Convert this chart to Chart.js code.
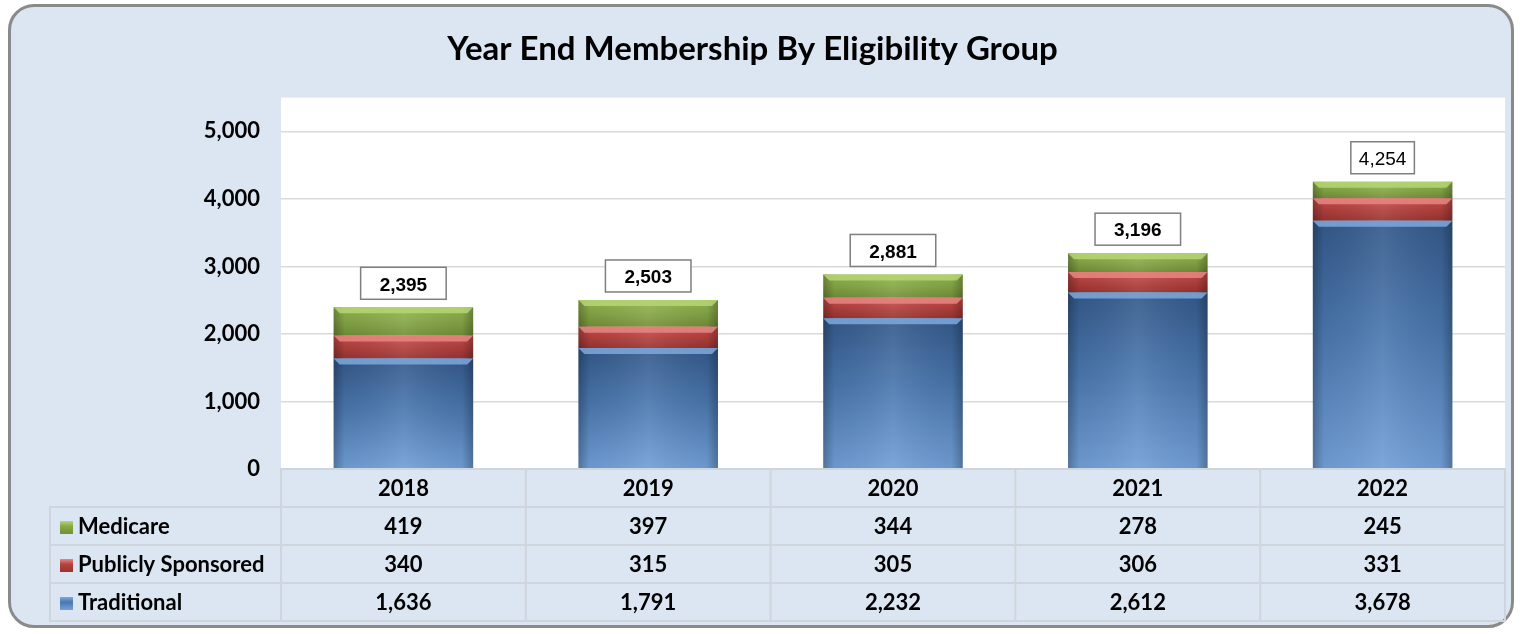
<!DOCTYPE html>
<html>
<head>
<meta charset="utf-8">
<script src="https://cdn.jsdelivr.net/npm/chart.js@4.4.0/dist/chart.umd.min.js"></script>
<style>
  html, body { margin: 0; padding: 0; background: #ffffff; }
  #wrap { position: relative; width: 1522px; height: 634px; }
  #frame {
    position: absolute; left: 8px; top: 4px; width: 1500px; height: 618px;
    border: 3px solid #8a8a8a; border-radius: 26px; background: #dce6f2;
  }
  #chart { position: absolute; left: 0; top: 0; }
</style>
</head>
<body>
<div id="wrap">
  <div id="frame"></div>
  <canvas id="chart" width="1522" height="634"></canvas>
</div>
<script>
const years = ['2018', '2019', '2020', '2021', '2022'];
const medicare = [419, 397, 344, 278, 245];
const publiclySponsored = [340, 315, 305, 306, 331];
const traditional = [1636, 1791, 2232, 2612, 3678];
const yTicks = [0, 1000, 2000, 3000, 4000, 5000];

const seriesNames = ['Traditional', 'Publicly Sponsored', 'Medicare'];
const tableOrder = ['Medicare', 'Publicly Sponsored', 'Traditional'];
const datasetsByName = { 'Traditional': traditional, 'Publicly Sponsored': publiclySponsored, 'Medicare': medicare };

// top, middle, bottom, bevel highlight
const shades = {
    'Traditional': ['#34598a', '#4a77ae', '#72a0d8', '#7ea9de'],
    'Publicly Sponsored': ['#c4504d', '#b6423f', '#983431', '#e88683'],
    'Medicare': ['#93b552', '#88a948', '#728f38', '#b5d672']
};

const BAR_PCT = 0.57;
const fmt = v => v.toLocaleString('en-US');

function barFill(name, di) {
    return (ctx) => {
        const chart = ctx.chart;
        const y = chart.scales.y;
        const i = ctx.dataIndex;
        const c = shades[name];
        if (!y || i === undefined) return c[1];
        let start = 0;
        for (let k = 0; k < di; k++) start += datasetsByName[seriesNames[k]][i];
        const end = start + datasetsByName[name][i];
        const p0 = y.getPixelForValue(end), p1 = y.getPixelForValue(start);
        if (!isFinite(p0) || !isFinite(p1) || p0 === p1) return c[1];
        const g = chart.ctx.createLinearGradient(0, p0, 0, p1);
        g.addColorStop(0, c[0]);
        g.addColorStop(0.45, c[1]);
        g.addColorStop(1, c[2]);
        return g;
    };
}

const plotBg = {
    id: 'plotBg',
    beforeDraw(chart) {
        const a = chart.chartArea;
        chart.ctx.save();
        chart.ctx.fillStyle = '#ffffff';
        chart.ctx.fillRect(a.left, a.top, a.right - a.left, a.bottom - a.top);
        chart.ctx.restore();
    }
};

// bevel + totals + data table
const tablePlugin = {
    id: 'tablePlugin',
    afterDatasetsDraw(chart) {
        const ctx = chart.ctx;
        const x = chart.scales.x;
        const y = chart.scales.y;
        const area = chart.chartArea;

        chart.data.datasets.forEach((ds, di) => {
            const c = shades[seriesNames[di]];
            chart.getDatasetMeta(di).data.forEach(bar => {
                const h = Math.abs(bar.base - bar.y);
                const l = bar.x - bar.width / 2, r = bar.x + bar.width / 2;
                ctx.save();
                const side = ctx.createLinearGradient(l, 0, r, 0);
                side.addColorStop(0, 'rgba(0,0,0,0.28)');
                side.addColorStop(0.08, 'rgba(0,0,0,0.05)');
                side.addColorStop(0.5, 'rgba(255,255,255,0.08)');
                side.addColorStop(0.92, 'rgba(0,0,0,0.05)');
                side.addColorStop(1, 'rgba(0,0,0,0.28)');
                ctx.fillStyle = side;
                ctx.fillRect(l, bar.y, bar.width, h);
                const b = Math.min(6, h / 2);
                ctx.fillStyle = c[3];
                ctx.globalAlpha = 0.85;
                ctx.beginPath();
                ctx.moveTo(l, bar.y);
                ctx.lineTo(r, bar.y);
                ctx.lineTo(r - b, bar.y + b);
                ctx.lineTo(l + b, bar.y + b);
                ctx.closePath();
                ctx.fill();
                ctx.restore();
            });
        });

        years.forEach((yr, i) => {
            const total = medicare[i] + publiclySponsored[i] + traditional[i];
            const cx = x.getPixelForValue(i);
            const top = y.getPixelForValue(total);
            const last = i === years.length - 1;
            ctx.save();
            ctx.font = (last ? '' : 'bold ') + '19px "Liberation Sans", Arial, sans-serif';
            const tw = ctx.measureText(fmt(total)).width;
            const bw = tw + (last ? 16 : 38);
            const bh = 32;
            const by = top - 8 - bh;
            ctx.fillStyle = '#ffffff';
            ctx.fillRect(cx - bw / 2, by, bw, bh);
            ctx.strokeStyle = '#7f7f7f';
            ctx.lineWidth = 1.5;
            ctx.strokeRect(cx - bw / 2, by, bw, bh);
            ctx.fillStyle = '#000000';
            ctx.textAlign = 'center';
            ctx.textBaseline = 'middle';
            ctx.fillText(fmt(total), cx, by + bh / 2 + 2);
            ctx.restore();
        });

        const rowH = 38;
        const top0 = area.bottom;
        const colW = (area.right - area.left) / years.length;
        const labelLeft = 50;
        ctx.save();
        ctx.strokeStyle = '#cfd5dc';
        ctx.lineWidth = 2;
        ctx.strokeRect(area.left, top0, area.right - area.left, rowH);
        for (let r = 0; r < 3; r++) {
            ctx.strokeRect(labelLeft, top0 + rowH * (r + 1), area.right - labelLeft, rowH);
        }
        for (let c = 0; c <= years.length; c++) {
            const lx = area.left + c * colW;
            ctx.beginPath();
            ctx.moveTo(lx, top0);
            ctx.lineTo(lx, top0 + rowH * 4);
            ctx.stroke();
        }

        ctx.fillStyle = '#000000';
        ctx.font = 'bold 22px Lato, "Open Sans", sans-serif';
        ctx.textAlign = 'center';
        ctx.textBaseline = 'middle';
        years.forEach((yr, i) => {
            ctx.fillText(yr, x.getPixelForValue(i), top0 + rowH / 2 + 1);
        });
        tableOrder.forEach((name, r) => {
            const cy = top0 + rowH * (r + 1) + rowH / 2 + 1;
            datasetsByName[name].forEach((v, i) => {
                ctx.fillText(fmt(v), x.getPixelForValue(i), cy);
            });
            const c = shades[name];
            const g = ctx.createLinearGradient(0, cy - 6, 0, cy + 7);
            g.addColorStop(0, c[3]);
            g.addColorStop(0.4, c[1]);
            g.addColorStop(1, c[2]);
            ctx.fillStyle = g;
            ctx.fillRect(60, cy - 6, 13, 13);
            ctx.fillStyle = '#000000';
            ctx.textAlign = 'left';
            ctx.fillText(name, 78, cy);
            ctx.textAlign = 'center';
        });
        ctx.restore();
    }
};

new Chart(document.getElementById('chart').getContext('2d'), {
    type: 'bar',
    data: {
        labels: years,
        datasets: seriesNames.map((name, di) => ({
            label: name,
            data: datasetsByName[name],
            backgroundColor: barFill(name, di),
            borderWidth: 0,
            barPercentage: BAR_PCT,
            categoryPercentage: 1
        }))
    },
    options: {
        responsive: false,
        animation: false,
        layout: { padding: { left: 0, top: 30, right: 17, bottom: 165 } },
        plugins: {
            legend: { display: false },
            tooltip: { enabled: false },
            title: {
                display: true,
                text: 'Year End Membership By Eligibility Group',
                color: '#000000',
                font: { family: 'Lato, "Open Sans", sans-serif', size: 33, weight: 'bold' },
                padding: { top: 0, bottom: 28 }
            }
        },
        scales: {
            x: { stacked: true, display: false },
            y: {
                stacked: true,
                min: 0,
                max: 5500,
                border: { display: false },
                afterFit(scale) { scale.width = 281; },
                afterBuildTicks(scale) { scale.ticks = yTicks.map(v => ({ value: v })); },
                grid: { color: '#d9d9d9', lineWidth: 1.5, drawTicks: false },
                ticks: {
                    padding: 21,
                    color: '#000000',
                    font: { family: 'Lato, "Open Sans", sans-serif', size: 22, weight: 'bold' },
                    callback: v => fmt(v)
                }
            }
        }
    },
    plugins: [plotBg, tablePlugin]
});
</script>
</body>
</html>
